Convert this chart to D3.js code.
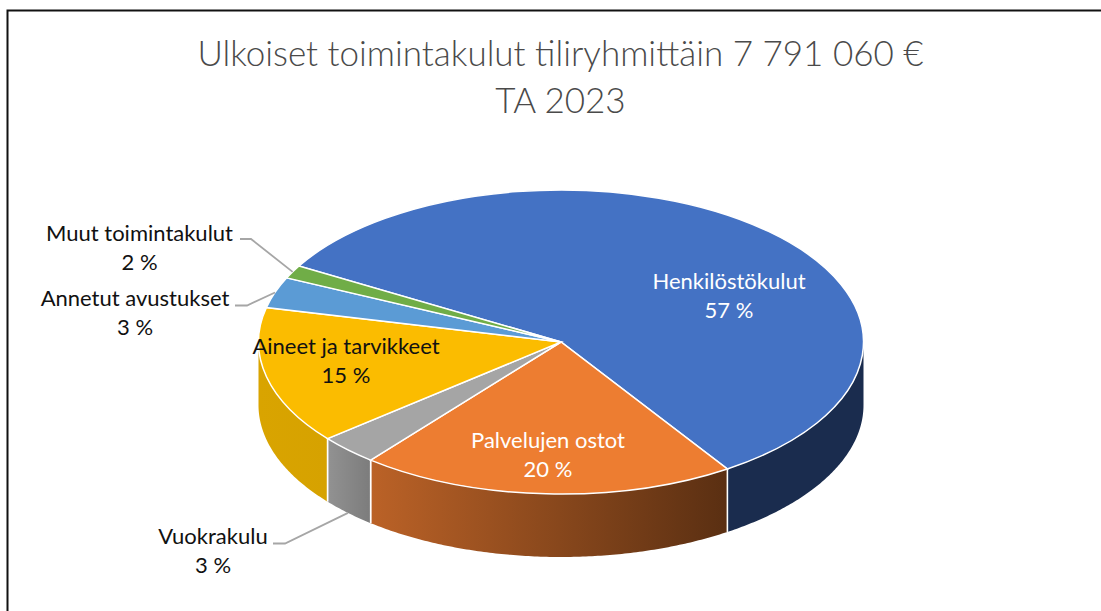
<!DOCTYPE html>
<html>
<head>
<meta charset="utf-8">
<script src="https://cdn.jsdelivr.net/npm/d3@7"></script>
<style>
html, body { margin: 0; padding: 0; background: #fff; }
svg { display: block; }
</style>
</head>
<body>
<div id="chart"></div>
<script>
// shares, the printed labels are the rounded ones from the chart
var categories = ['Henkilöstökulut', 'Palvelujen ostot', 'Vuokrakulu', 'Aineet ja tarvikkeet', 'Annetut avustukset', 'Muut toimintakulut'];
var shares = [57.4, 20.1, 3.2, 14.6, 3.3, 1.4];
var percentLabels = ['57 %', '20 %', '3 %', '15 %', '3 %', '2 %'];
var titleLines = ['Ulkoiset toimintakulut tiliryhmittäin 7 791 060 €', 'TA 2023'];

var topColors = ['#4472c4', '#ed7d31', '#a5a5a5', '#fbbc00', '#5b9bd5', '#70ad47'];
var sideColors = [['#1a2c4e', '#1a2c4e'], ['#bb6227', '#5a2f12'], ['#929292', '#7c7c7c'], ['#d9a400', '#d6a200'], ['#3a6ea0', '#3a6ea0'], ['#44692b', '#44692b']];
var textColors = ['#fff', '#fff', '#111', '#111', '#111', '#111'];

var width = 1101;
var height = 611;
var cx = 561;
var cy = 342;
var rx = 302.5;
var ry = 152;
var depth = 63;
var startDeg = -60;

// label anchors: [x of centre, y of first baseline], elbow only for outside labels
var labelPos = [[729, 289], [548, 448], [213, 544], [346, 354], [135, 306], [139.5, 241]];
var leaders = [null, null, [[273, 543.5], [285, 543.5]], null, [[235, 305.5], [247, 305.5]], [[240, 239], [251, 239]]];

var svg = d3.select('#chart').append('svg')
  .attr('width', width)
  .attr('height', height)
  .attr('font-family', 'Lato, sans-serif');

// frame, open on the right and at the bottom
svg.append('path')
  .attr('d', `M${width},10.5H7.5V${height}`)
  .attr('fill', 'none')
  .attr('stroke', '#111')
  .attr('stroke-width', 2);

svg.append('g').selectAll('text')
  .data(titleLines)
  .enter().append('text')
  .attr('x', 560.5)
  .attr('y', (d, i) => 66 + i * 47)
  .attr('text-anchor', 'middle')
  .attr('fill', '#4a4a4a')
  .style('font-size', '35px')
  .style('font-weight', 300)
  .text(d => d);

var pie = d3.pie()
  .sort(null)
  .startAngle(startDeg * Math.PI / 180)
  .endAngle((startDeg + 360) * Math.PI / 180)
  .value(d => d);

var arcs = pie(shares);

// angle from the top, clockwise, to a point on the rim
var rimX = a => cx + rx * Math.sin(a);
var rimY = a => cy - ry * Math.cos(a);

var defs = svg.append('defs');
var wallArea = d3.area()
  .x(a => rimX(a))
  .y0(a => rimY(a))
  .y1(a => rimY(a) + depth);

// only the front half of the rim is visible
var walls = svg.append('g');
arcs.forEach((d, i) => {
  var from = Math.max(d.startAngle, Math.PI / 2);
  var to = Math.min(d.endAngle, Math.PI * 1.5);
  if (to <= from) return;
  var steps = d3.range(from, to, 0.01).concat([to]);
  var gradId = 'side' + i;
  var grad = defs.append('linearGradient')
    .attr('id', gradId)
    .attr('gradientUnits', 'userSpaceOnUse')
    .attr('x1', rimX(to)).attr('x2', rimX(from))
    .attr('y1', 0).attr('y2', 0);
  grad.append('stop').attr('offset', 0).attr('stop-color', sideColors[i][0]);
  grad.append('stop').attr('offset', 1).attr('stop-color', sideColors[i][1]);
  walls.append('path')
    .attr('d', wallArea(steps))
    .attr('fill', `url(#${gradId})`);
  // white seams between wall pieces, not on the silhouette
  [from, to].filter(a => a > Math.PI / 2 && a < Math.PI * 1.5).forEach(a => {
    walls.append('line')
      .attr('x1', rimX(a)).attr('x2', rimX(a))
      .attr('y1', rimY(a)).attr('y2', rimY(a) + depth)
      .attr('stroke', '#fff')
      .attr('stroke-width', 1.5);
  });
});

// top face is a plain d3 arc squashed into an ellipse
var arc = d3.arc().innerRadius(0).outerRadius(rx);

svg.append('g')
  .attr('transform', `translate(${cx},${cy}) scale(1,${ry / rx})`)
  .selectAll('path')
  .data(arcs)
  .enter().append('path')
  .attr('d', arc)
  .attr('fill', (d, i) => topColors[i])
  .attr('stroke', '#fff')
  .attr('stroke-width', 1.5)
  .attr('vector-effect', 'non-scaling-stroke');

// leader lines end on the rim at the middle of the slice
var leaderLine = d3.line();
svg.append('g').selectAll('path')
  .data(arcs.map((d, i) => ({d: d, i: i})).filter(o => leaders[o.i]))
  .enter().append('path')
  .attr('d', o => {
    var mid = (o.d.startAngle + o.d.endAngle) / 2;
    var front = mid > Math.PI / 2 && mid < Math.PI * 1.5;
    return leaderLine(leaders[o.i].concat([[rimX(mid), rimY(mid) + (front ? depth : 0)]]));
  })
  .attr('fill', 'none')
  .attr('stroke', '#a6a6a6')
  .attr('stroke-width', 1.8);

var labels = svg.append('g').selectAll('text')
  .data(categories)
  .enter().append('text')
  .attr('text-anchor', 'middle')
  .attr('fill', (d, i) => textColors[i])
  .style('font-size', '22px');

labels.append('tspan')
  .attr('x', (d, i) => labelPos[i][0])
  .attr('y', (d, i) => labelPos[i][1])
  .text(d => d);

labels.append('tspan')
  .attr('x', (d, i) => labelPos[i][0])
  .attr('y', (d, i) => labelPos[i][1] + 28.5)
  .text((d, i) => percentLabels[i]);
</script>
</body>
</html>
